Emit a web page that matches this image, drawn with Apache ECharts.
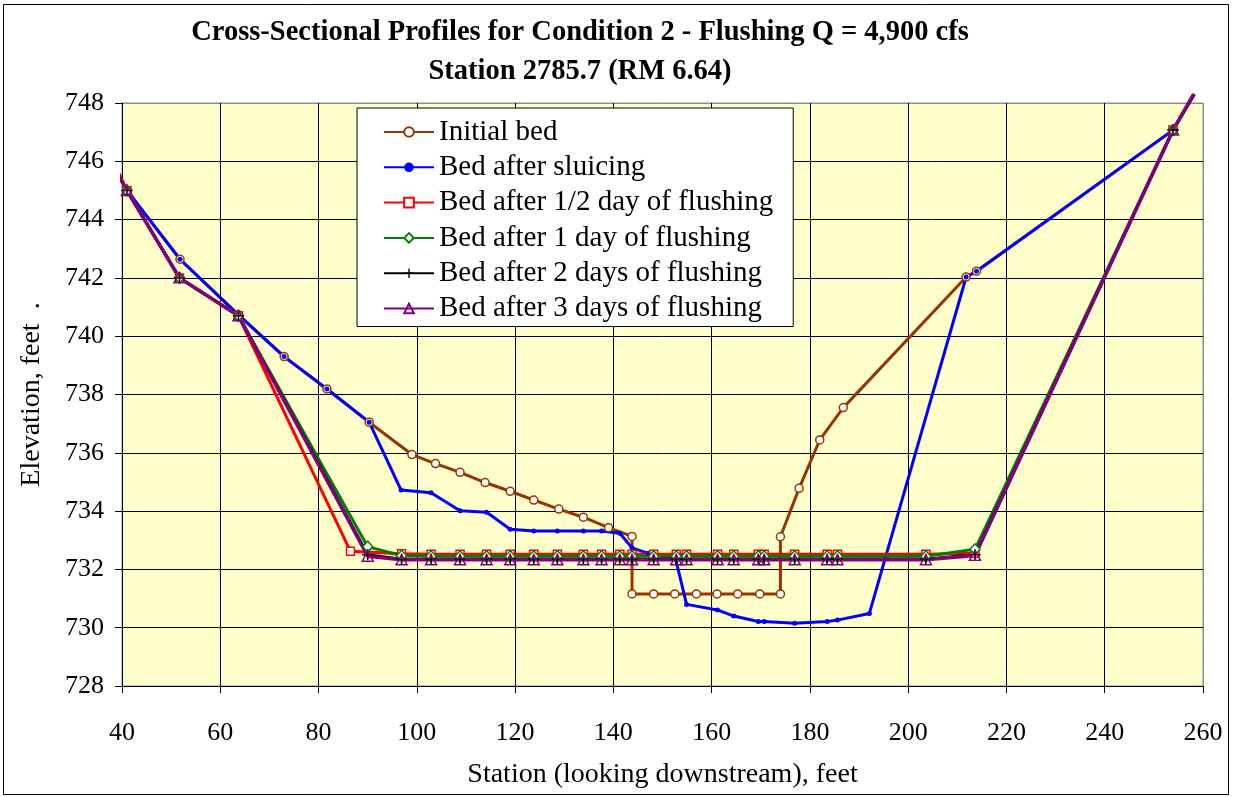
<!DOCTYPE html>
<html>
<head>
<meta charset="utf-8">
<script src="https://cdn.jsdelivr.net/npm/echarts@6/dist/echarts.min.js"></script>
<style>
  html, body { margin: 0; padding: 0; background: #fff; }
  #chart { width: 1233px; height: 797px; }
</style>
</head>
<body>
<div id="chart"></div>
<script>
// Station (ft) and bed elevation (ft) for each surveyed profile
const initialX = [41.0, 51.8, 63.7, 73.0, 81.7, 90.3, 99.0, 103.8, 108.8, 113.9, 119.0, 123.8, 128.9, 133.9, 139.0, 143.8, 143.8, 148.2, 152.5, 156.9, 161.1, 165.3, 169.8, 174.0, 174.0, 177.8, 182.0, 186.8, 211.8, 213.9, 253.9];
const initialY = [745.0, 742.64, 740.73, 739.30, 738.19, 737.05, 735.94, 735.63, 735.33, 734.98, 734.68, 734.38, 734.07, 733.79, 733.43, 733.13, 731.16, 731.16, 731.16, 731.16, 731.16, 731.16, 731.16, 731.16, 733.12, 734.78, 736.44, 737.55, 742.03, 742.23, 747.07];

const sluiceX = [41.0, 51.8, 63.7, 73.0, 81.7, 90.3, 96.8, 102.9, 108.8, 114.2, 119.0, 123.8, 128.6, 133.9, 137.6, 141.3, 143.8, 147.1, 152.7, 154.9, 161.2, 164.5, 169.5, 170.7, 176.9, 183.5, 185.6, 192.1, 211.8, 213.9, 253.9];
const sluiceY = [745.0, 742.64, 740.73, 739.30, 738.19, 737.05, 734.72, 734.63, 734.01, 733.96, 733.38, 733.32, 733.32, 733.32, 733.32, 733.24, 732.74, 732.55, 732.34, 730.80, 730.61, 730.40, 730.21, 730.21, 730.15, 730.21, 730.26, 730.49, 742.03, 742.23, 747.07];

const halfDayX = [38.2, 41.0, 51.7, 63.7, 86.5, 96.9, 102.9, 108.8, 114.2, 119.0, 123.8, 128.6, 133.9, 137.6, 141.3, 143.8, 148.2, 152.8, 154.9, 161.2, 164.5, 169.5, 170.7, 176.9, 183.5, 185.6, 203.6, 213.6, 253.9, 258.3];
const halfDayY = [746.0, 745.0, 742.0, 740.7, 732.62, 732.54, 732.52, 732.52, 732.52, 732.52, 732.52, 732.52, 732.52, 732.52, 732.52, 732.52, 732.52, 732.52, 732.52, 732.52, 732.52, 732.52, 732.52, 732.52, 732.52, 732.52, 732.52, 732.55, 747.07, 748.3];

const flushX = [38.2, 41.0, 51.7, 63.7, 90.0, 96.9, 102.9, 108.8, 114.2, 119.0, 123.8, 128.6, 133.9, 137.6, 141.3, 143.8, 148.2, 152.8, 154.9, 161.2, 164.5, 169.5, 170.7, 176.9, 183.5, 185.6, 203.6, 213.6, 253.9, 258.1];
const oneDayY = [745.85, 745.0, 742.0, 740.7, 732.78, 732.47, 732.45, 732.45, 732.45, 732.45, 732.45, 732.45, 732.45, 732.45, 732.45, 732.45, 732.45, 732.45, 732.45, 732.45, 732.45, 732.45, 732.45, 732.45, 732.45, 732.45, 732.45, 732.69, 747.07, 748.3];
const twoDayY = [745.85, 745.0, 742.0, 740.7, 732.50, 732.35, 732.35, 732.35, 732.35, 732.35, 732.35, 732.35, 732.35, 732.35, 732.35, 732.35, 732.35, 732.35, 732.35, 732.35, 732.35, 732.35, 732.35, 732.35, 732.35, 732.35, 732.35, 732.50, 747.07, 748.3];
const threeDayY = [745.85, 745.0, 742.0, 740.7, 732.45, 732.33, 732.33, 732.33, 732.33, 732.33, 732.33, 732.33, 732.33, 732.33, 732.33, 732.33, 732.33, 732.33, 732.33, 732.33, 732.33, 732.33, 732.33, 732.33, 732.33, 732.33, 732.33, 732.48, 747.07, 748.3];

const seriesNames = ['Initial bed', 'Bed after sluicing', 'Bed after 1/2 day of flushing', 'Bed after 1 day of flushing', 'Bed after 2 days of flushing', 'Bed after 3 days of flushing'];

const xTicks = { min: 40, max: 260, step: 20 };
const yTicks = { min: 728, max: 748, step: 2 };

const FONT = '"Liberation Serif", "Times New Roman", serif';

// points beyond the axis range carry the line only, no marker
function pairs(xs, ys) {
  return xs.map((x, i) => {
    const item = { value: [x, ys[i]] };
    if (x < xTicks.min || x > xTicks.max || ys[i] > yTicks.max) item.symbol = 'none';
    return item;
  });
}

function gridColors(count) {
  const c = [];
  for (let i = 0; i < count; i++) c.push(i === count - 1 ? '#8c8c8c' : '#000');
  return c;
}

const plusPath = 'path://M0,4.3 L10,4.3 L10,5.7 L0,5.7 Z M4.3,0 L5.7,0 L5.7,10 L4.3,10 Z';

function lineSeries(name, xs, ys, opts) {
  return Object.assign({
    name: name,
    type: 'line',
    data: pairs(xs, ys),
    clip: false,
    animation: false,
    showAllSymbol: true
  }, opts);
}

const chart = echarts.init(document.getElementById('chart'), null, { renderer: 'canvas' });

chart.setOption({
  animation: false,
  backgroundColor: '#fff',
  graphic: [
    { type: 'rect', z: 100, silent: true,
      shape: { x: 3.5, y: 4.5, width: 1225, height: 790 },
      style: { fill: 'none', stroke: '#000', lineWidth: 1 } },
    { type: 'text', z: 100, x: 580, y: 33,
      style: { text: 'Cross-Sectional Profiles for Condition 2 - Flushing Q = 4,900 cfs',
        font: 'bold 28.5px ' + FONT, fill: '#000', textAlign: 'center', textVerticalAlign: 'middle' } },
    { type: 'text', z: 100, x: 580, y: 72,
      style: { text: 'Station 2785.7 (RM 6.64)',
        font: 'bold 28.5px ' + FONT, fill: '#000', textAlign: 'center', textVerticalAlign: 'middle' } }
  ],
  grid: {
    left: 122, right: 30, top: 103, bottom: 111,
    show: true, backgroundColor: '#FFFFCC', borderColor: '#8c8c8c', borderWidth: 1
  },
  legend: {
    orient: 'vertical',
    left: 357, top: 108,
    padding: [9, 20, 3, 26],
    backgroundColor: '#fff',
    borderColor: '#000', borderWidth: 1,
    itemWidth: 50, itemHeight: 12,
    itemGap: 5.3,
    data: seriesNames,
    textStyle: { fontFamily: FONT, fontSize: 29, color: '#000', lineHeight: 30 }
  },
  xAxis: {
    type: 'value', min: xTicks.min, max: xTicks.max, interval: xTicks.step,
    name: 'Station (looking downstream), feet',
    nameLocation: 'middle', nameGap: 75,
    nameTextStyle: { fontFamily: FONT, fontSize: 28, color: '#000' },
    axisLine: { show: true, onZero: false, lineStyle: { color: '#000', width: 1 } },
    axisTick: { show: true, length: 7, lineStyle: { color: '#000' } },
    axisLabel: { margin: 34, fontFamily: FONT, fontSize: 26, color: '#000' },
    splitLine: { show: true, lineStyle: { color: gridColors(12), width: 1 } }
  },
  yAxis: {
    type: 'value', min: yTicks.min, max: yTicks.max, interval: yTicks.step,
    name: 'Elevation, feet  .',
    nameLocation: 'middle', nameGap: 76,
    nameTextStyle: { fontFamily: FONT, fontSize: 28, color: '#000' },
    axisLine: { show: true, onZero: false, lineStyle: { color: '#000', width: 1 } },
    axisTick: { show: true, length: 7, lineStyle: { color: '#000' } },
    axisLabel: { margin: 18, fontFamily: FONT, fontSize: 26, color: '#000' },
    splitLine: { show: true, lineStyle: { color: gridColors(11), width: 1 } }
  },
  series: [
    lineSeries(seriesNames[0], initialX, initialY, {
      symbol: 'circle', symbolSize: 8,
      lineStyle: { color: '#993300', width: 3 },
      itemStyle: { color: '#fff', borderColor: '#993300', borderWidth: 1.5 }
    }),
    lineSeries(seriesNames[1], sluiceX, sluiceY, {
      symbol: 'circle', symbolSize: 5,
      lineStyle: { color: '#0000FF', width: 3 },
      itemStyle: { color: '#0000FF', borderColor: '#0000FF', borderWidth: 0 }
    }),
    lineSeries(seriesNames[2], halfDayX, halfDayY, {
      symbol: 'rect', symbolSize: 8,
      lineStyle: { color: '#FF0000', width: 3 },
      itemStyle: { color: '#fff', borderColor: '#FF0000', borderWidth: 1.5 }
    }),
    lineSeries(seriesNames[3], flushX, oneDayY, {
      symbol: 'diamond', symbolSize: [10, 11],
      lineStyle: { color: '#008000', width: 3 },
      itemStyle: { color: '#fff', borderColor: '#008000', borderWidth: 1.5 }
    }),
    lineSeries(seriesNames[4], flushX, twoDayY, {
      symbol: plusPath, symbolSize: 11,
      lineStyle: { color: '#000', width: 3 },
      itemStyle: { color: '#000', borderWidth: 0 }
    }),
    lineSeries(seriesNames[5], flushX, threeDayY, {
      symbol: 'triangle', symbolSize: [11, 10],
      lineStyle: { color: '#800080', width: 3.5 },
      itemStyle: { color: 'rgba(255,255,255,0)', borderColor: '#800080', borderWidth: 1.5 }
    })
  ]
});
</script>
</body>
</html>
